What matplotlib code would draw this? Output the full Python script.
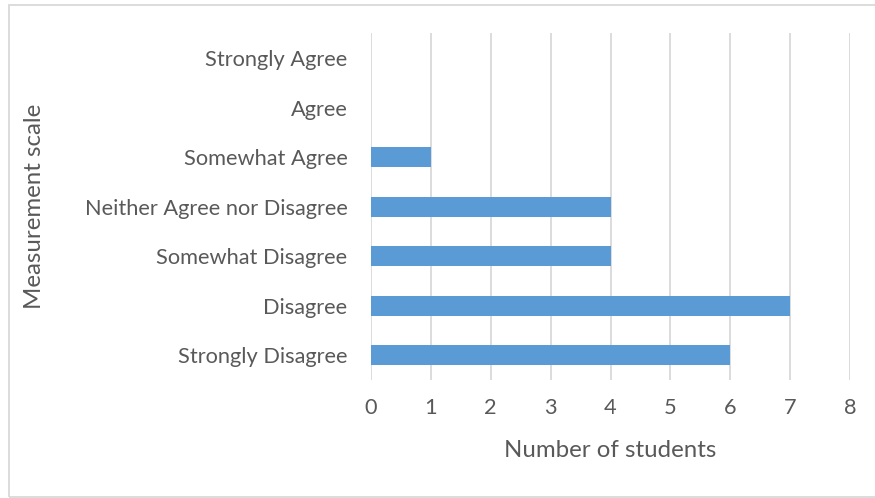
import matplotlib
matplotlib.use("Agg")
import matplotlib.pyplot as plt
from matplotlib.patches import Rectangle

categories = ["Strongly Disagree", "Disagree", "Somewhat Disagree",
              "Neither Agree nor Disagree", "Somewhat Agree", "Agree",
              "Strongly Agree"]
students = [6, 7, 4, 4, 1, 0, 0]
xticks = [0, 1, 2, 3, 4, 5, 6, 7, 8]

plt.rcParams['font.family'] = ['Lato', 'DejaVu Sans']
text_color = '#595959'
grid_color = '#d9d9d9'

fig = plt.figure(figsize=(8.75, 4.98), dpi=100)
ax = fig.add_axes([371 / 875, 118 / 498, 479 / 875, 346.5 / 498])

ypos = list(range(len(categories)))
ax.barh(ypos, students, height=0.404, color='#5b9bd5', zorder=3)

ax.set_xlim(0, 8)
ax.set_ylim(-0.5, len(categories) - 0.5)
ax.set_xticks(xticks)
ax.set_xticklabels([str(t) for t in xticks])
ax.set_yticks(ypos)
ax.set_yticklabels(categories)
ax.tick_params(axis='both', length=0, labelsize=15.7, labelcolor=text_color)
ax.tick_params(axis='y', pad=17)
ax.tick_params(axis='x', pad=13)
ax.grid(axis='x', color=grid_color, linewidth=1.3, zorder=0)
for s in ax.spines.values():
    s.set_visible(False)

ax.set_xlabel("Number of students", fontsize=17.3, color=text_color)
ax.xaxis.set_label_coords(0.5, (380 - 450) / 346.5)
ax.xaxis.label.set_va('center')
ax.set_ylabel("Measurement scale", fontsize=17.3, color=text_color)
ax.yaxis.set_label_coords((34 - 371) / 479, 0.5)
ax.yaxis.label.set_va('center')

# chart border
fig.patches.append(Rectangle((9 / 875, 1 / 498), 870 / 875, 492 / 498,
                             transform=fig.transFigure, fill=False,
                             edgecolor=grid_color, linewidth=1.3))

fig.savefig("out.png", dpi=100)
